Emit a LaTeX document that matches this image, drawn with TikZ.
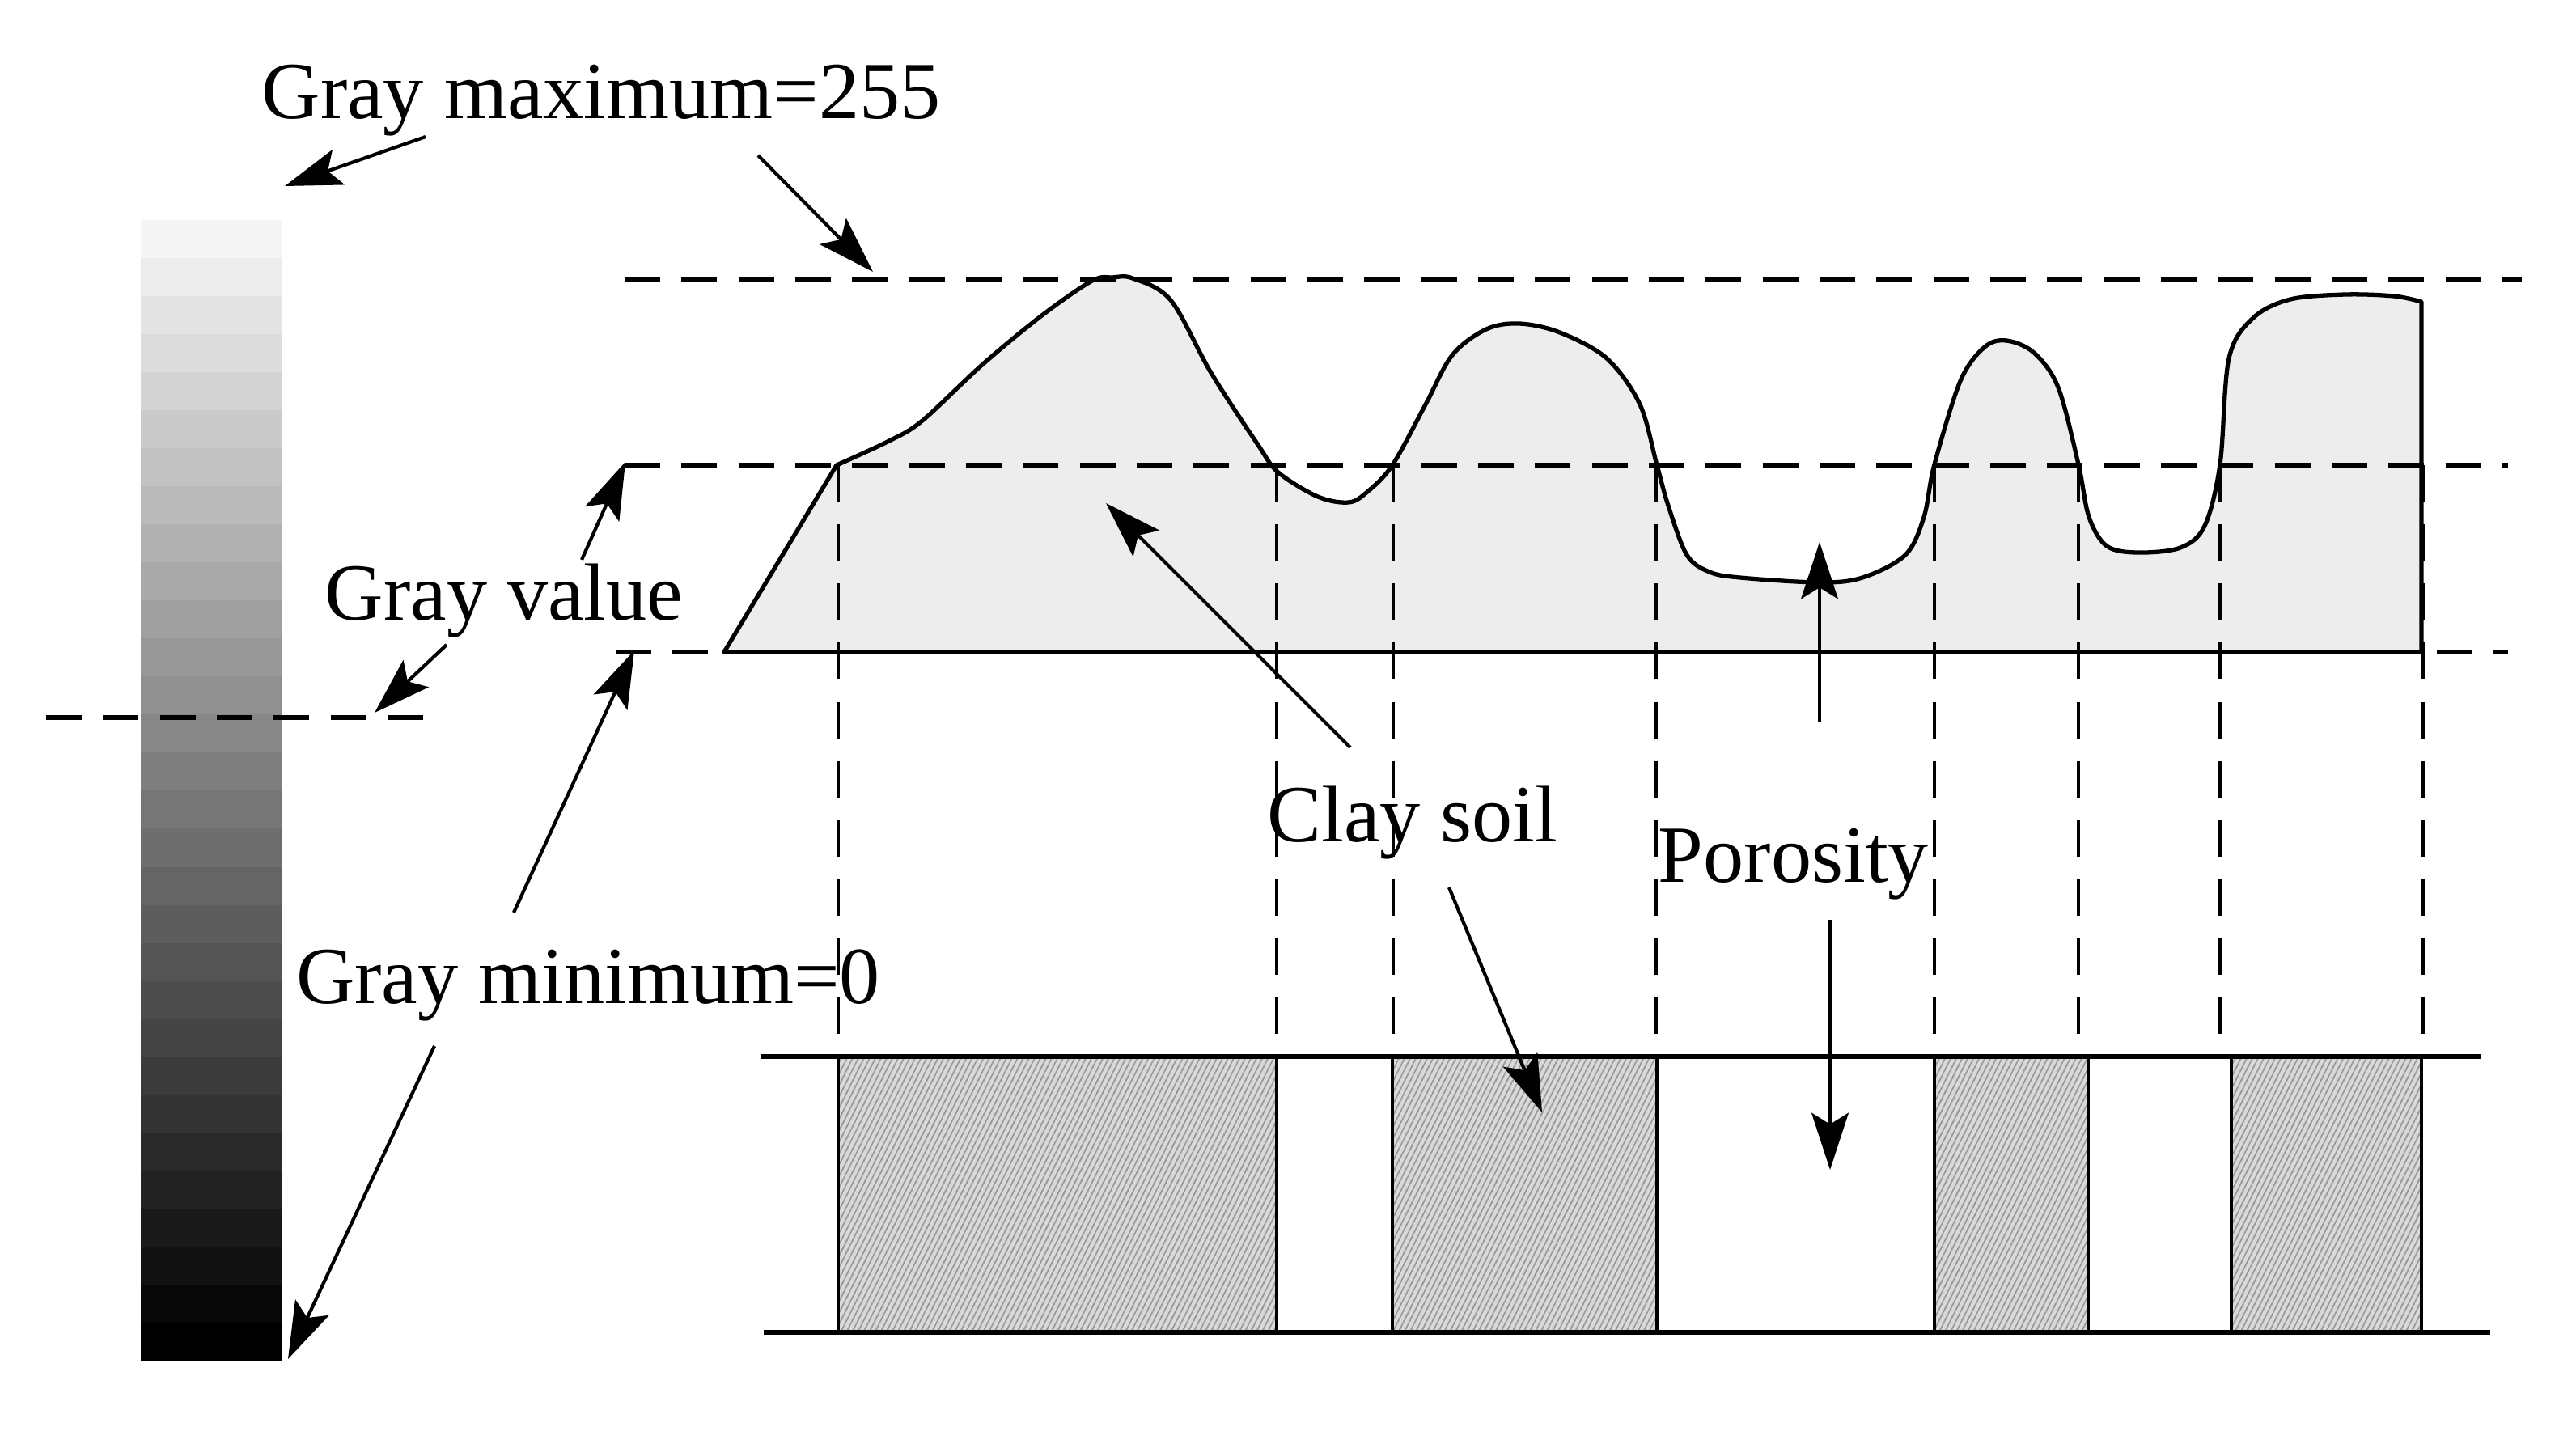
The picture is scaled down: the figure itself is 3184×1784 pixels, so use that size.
\documentclass[tikz,border=0pt]{standalone}
\usepackage{fontspec}
\setmainfont{Liberation Serif}
\usetikzlibrary{arrows.meta,patterns}
\pgfdeclarepatternformonly{steephatch}{\pgfqpoint{-1pt}{-1pt}}{\pgfqpoint{3pt}{5pt}}{\pgfqpoint{2pt}{4pt}}{%
  \pgfsetlinewidth{0.45pt}%
  \pgfpathmoveto{\pgfqpoint{-0.5pt}{-1pt}}\pgfpathlineto{\pgfqpoint{2.5pt}{5pt}}\pgfusepath{stroke}}
\begin{document}
\begin{tikzpicture}[x=0.01cm,y=-0.01cm,
  lbl/.style={font=\fontsize{28.5}{34}\selectfont, inner sep=0pt, anchor=base},
  hdash/.style={line width=1.5pt, dash pattern=on 12.5pt off 7.5pt},
  vdash/.style={line width=1.1pt, dash pattern=on 12.8pt off 8pt},
  arr/.style={line width=1.2pt, -{Stealth[length=20pt,width=13pt,inset=4pt]}},
  bandline/.style={line width=1.6pt},
  clay/.style={fill=black!15, postaction={pattern=steephatch, pattern color=black!40}},
  clayedge/.style={line width=1.1pt},
  prof/.style={fill=black!7, draw=black, line width=1.5pt, line join=round}]

\useasboundingbox (0,0) rectangle (3184,1784);

% gray scale bar
\foreach \i in {0,...,29}{
  \pgfmathsetmacro\pc{4+96*\i/29}
  \fill[black!\pc] (174,{272+\i*47.03}) rectangle (348,{272+(\i+1)*47.03+0.5});
}

% profile
\path[prof] (895,806) -- (1034,575)
  -- plot[smooth, tension=0.55] coordinates {(1034,575) (1099,545) (1140,520) (1215,450) (1289,389) (1350,347) (1375,343) (1400,344) (1447,371) (1497,461) (1555,550) (1580,584) (1629,614) (1667,621) (1690,608) (1721,575) (1762,500) (1795,439) (1837,407) (1878,400) (1928,411) (1986,443) (2027,500) (2048,575) (2062,625) (2085,686) (2113,707) (2151,714) (2249,720) (2302,714) (2355,686) (2378,639) (2391,574) (2423,471) (2453,429) (2480,421) (2514,436) (2544,479) (2569,574) (2582,639) (2604,675) (2642,683) (2695,677) (2725,650) (2744,574) (2755,443) (2785,393) (2831,370) (2899,364) (2959,366) (2993,373)}
  -- (2993,806) -- cycle;

% vertical dashed guides
\foreach \x in {1036,1578,1722,2047,2391,2569,2744,2995}{
  \draw[vdash] (\x,575) -- (\x,1304);
}

% horizontal dashed levels
\draw[hdash] (772,345) -- (3117,345);
\draw[hdash] (772,575) -- (3100,575);
\draw[hdash] (761,806) -- (3100,806);
\draw[hdash] (57,887) -- (532,887);

% clay soil blocks
\foreach \a/\b in {1036/1578,1721/2048,2391/2581,2758/2993}{
  \path[clay] (\a,1306) rectangle (\b,1647);
  \draw[clayedge] (\a,1306) -- (\a,1647) (\b,1306) -- (\b,1647);
}
\draw[bandline] (940,1306) -- (3066,1306);
\draw[bandline] (944,1647) -- (3078,1647);

% labels
\node[lbl] (gmax) at (743,146) {Gray maximum=255};
\node[lbl] (gval) at (623,766) {Gray value};
\node[lbl] (gmin) at (727,1240) {Gray minimum=0};
\node[lbl] (clay) at (1746,1040) {Clay soil};
\node[lbl] (poro) at (2217,1090) {Porosity};

% arrow end points
\coordinate (a1s) at (526,169);  \coordinate (a1e) at (352,230);
\coordinate (a2s) at (937,192);  \coordinate (a2e) at (1079,336);
\coordinate (a3s) at (719,692);  \coordinate (a3e) at (773,571);
\coordinate (a4s) at (552,797);  \coordinate (a4e) at (463,881);
\coordinate (a5s) at (635,1128); \coordinate (a5e) at (784,804);
\coordinate (a6s) at (537,1293); \coordinate (a6e) at (356,1680);
\coordinate (a7s) at (1669,924); \coordinate (a7e) at (1367,622);
\coordinate (a8s) at (1791,1097);\coordinate (a8e) at (1906,1375);
\coordinate (a9s) at (2249,893); \coordinate (a9e) at (2249,670);
\coordinate (a10s) at (2262,1137); \coordinate (a10e) at (2262,1446);

\foreach \k in {1,...,10}{
  \draw[arr] (a\k s) -- (a\k e);
}
\end{tikzpicture}
\end{document}
